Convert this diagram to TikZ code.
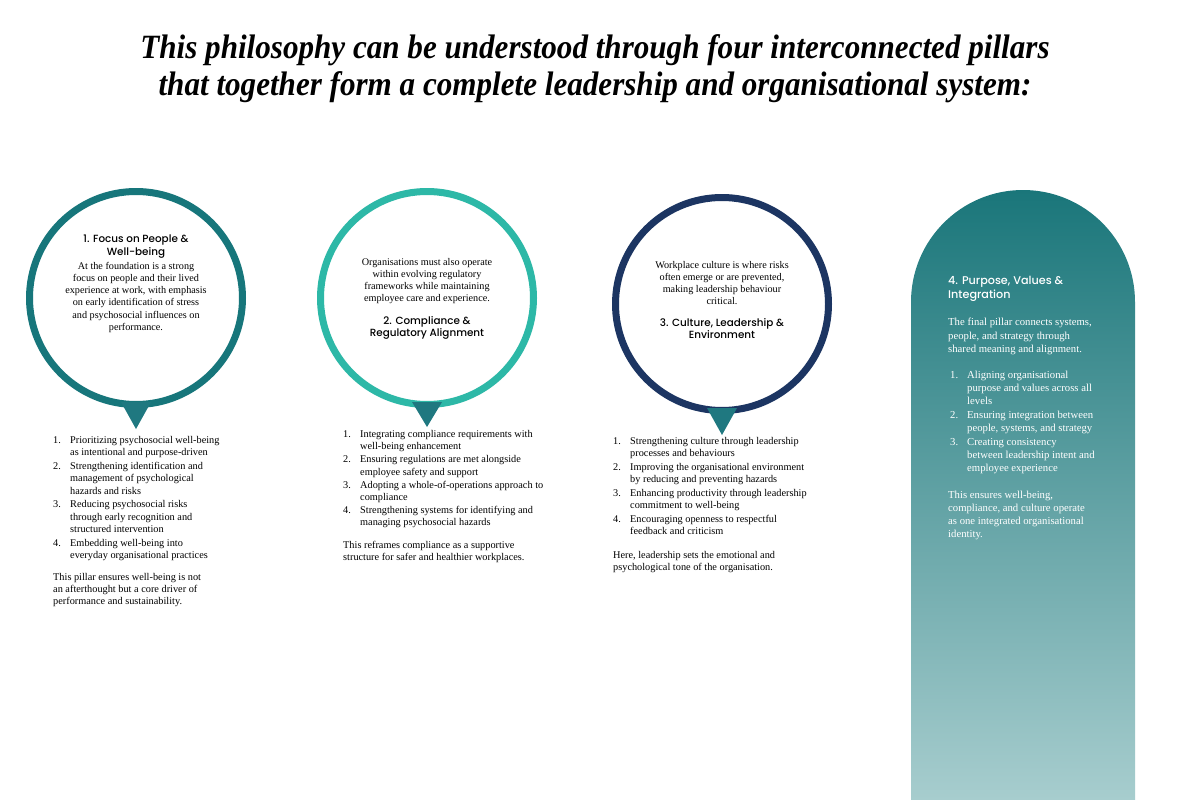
\documentclass[tikz,border=0pt]{standalone}
\usepackage{fontspec}
\setmainfont{Liberation Serif}
\IfFontExistsTF{Poppins Medium}{\newfontfamily\headfont{Poppins Medium}}{\newfontfamily\headfont{Poppins}}
\newfontfamily\titlefont[FakeStretch=0.915]{Liberation Serif}
\definecolor{ringA}{HTML}{17767B}
\definecolor{ringB}{HTML}{2DB8A7}
\definecolor{ringC}{HTML}{1C3562}
\definecolor{tipcol}{HTML}{1F7880}
\definecolor{panelTop}{HTML}{1A767A}
\definecolor{panelBot}{HTML}{A7CDCE}
\newcommand{\num}[1]{\makebox[17pt][l]{#1}}
\newcommand{\ind}{\hspace*{17pt}}

\begin{document}
\begin{tikzpicture}[x=1pt,y=-1pt,line cap=round,line join=round,
  ring/.style={circle,draw=#1,line width=7pt,minimum size=213pt,inner sep=0pt},
  body/.style={inner sep=0pt,align=center,anchor=north,font=\fontsize{10.2}{12.2}\selectfont},
  head/.style={inner sep=0pt,align=center,anchor=north,font=\headfont\fontsize{10.4}{12.5}\selectfont},
  list/.style={inner sep=0pt,align=left,anchor=north west,font=\fontsize{10.3}{12.3}\selectfont}]
\fill[white] (0,0) rectangle (1200,800);
\useasboundingbox (0,0) rectangle (1200,800);
% title
\node[inner sep=0pt,align=center,font=\titlefont\bfseries\itshape\fontsize{34}{37}\selectfont] (title) at (595,69)
  {This philosophy can be understood through four interconnected pillars\\that together form a complete leadership and organisational system:};
% the three rings
\node[ring=ringA] (p1) at (136,298) {};
\node[ring=ringB] (p2) at (427,298) {};
\node[ring=ringC] (p3) at (722,304) {};
\fill[tipcol] ([xshift=-15pt,yshift=6pt]p1.south) -- ([xshift=15pt,yshift=6pt]p1.south) -- ([yshift=-21pt]p1.south) -- cycle;
\fill[tipcol] ([xshift=-15pt,yshift=6pt]p2.south) -- ([xshift=15pt,yshift=6pt]p2.south) -- ([yshift=-19pt]p2.south) -- cycle;
\fill[tipcol] ([xshift=-15pt,yshift=6pt]p3.south) -- ([xshift=15pt,yshift=6pt]p3.south) -- ([yshift=-21pt]p3.south) -- cycle;
% pillar 1
\node[head] (h1) at (136,235) {1. Focus on People \&\\Well-being};
\node[body] (b1) at (136,262) {At the foundation is a strong\\focus on people and their lived\\experience at work, with emphasis\\on early identification of stress\\and psychosocial influences on\\performance.};
\node[list] (l1) at (53,436) {\num{1.}Prioritizing psychosocial well-being\\\ind as intentional and purpose-driven\\[1.5pt]
  \num{2.}Strengthening identification and\\\ind management of psychological\\\ind hazards and risks\\[1.5pt]
  \num{3.}Reducing psychosocial risks\\\ind through early recognition and\\\ind structured intervention\\[1.5pt]
  \num{4.}Embedding well-being into\\\ind everyday organisational practices};
\node[list] (c1) at (53,573) {This pillar ensures well-being is not\\an afterthought but a core driver of\\performance and sustainability.};
% pillar 2
\node[body] (b2) at (427,258) {Organisations must also operate\\within evolving regulatory\\frameworks while maintaining\\employee care and experience.};
\node[head] (h2) at (427,316) {2. Compliance \&\\Regulatory Alignment};
\node[list] (l2) at (343,430) {\num{1.}Integrating compliance requirements with\\\ind well-being enhancement\\[0.8pt]
  \num{2.}Ensuring regulations are met alongside\\\ind employee safety and support\\[0.8pt]
  \num{3.}Adopting a whole-of-operations approach to\\\ind compliance\\[0.8pt]
  \num{4.}Strengthening systems for identifying and\\\ind managing psychosocial hazards};
\node[list] (c2) at (343,541) {This reframes compliance as a supportive\\structure for safer and healthier workplaces.};
% pillar 3
\node[body] (b3) at (722,261) {Workplace culture is where risks\\often emerge or are prevented,\\making leadership behaviour\\critical.};
\node[head] (h3) at (722,318) {3. Culture, Leadership \&\\Environment};
\node[list] (l3) at (613,437) {\num{1.}Strengthening culture through leadership\\\ind processes and behaviours\\[1.5pt]
  \num{2.}Improving the organisational environment\\\ind by reducing and preventing hazards\\[1.5pt]
  \num{3.}Enhancing productivity through leadership\\\ind commitment to well-being\\[1.5pt]
  \num{4.}Encouraging openness to respectful\\\ind feedback and criticism};
\node[list] (c3) at (613,551) {Here, leadership sets the emotional and\\psychological tone of the organisation.};
% pillar 4 panel
\shade[top color=panelTop,bottom color=panelBot] (911,800) -- (911,302) arc[start angle=180,end angle=360,radius=112] -- (1135,800) -- cycle;
\node[head,anchor=north west,align=left,text=white,font=\headfont\fontsize{11.2}{14}\selectfont] (h4) at (948,276) {4. Purpose, Values \&\\Integration};
\node[list,text=white,font=\fontsize{10.7}{13.5}\selectfont] (b4) at (948,318) {The final pillar connects systems,\\people, and strategy through\\shared meaning and alignment.};
\node[list,text=white,font=\fontsize{10.7}{13}\selectfont] (l4) at (950,371) {\num{1.}Aligning organisational\\\ind purpose and values across all\\\ind levels\\[1pt]
  \num{2.}Ensuring integration between\\\ind people, systems, and strategy\\[1pt]
  \num{3.}Creating consistency\\\ind between leadership intent and\\\ind employee experience};
\node[list,text=white,font=\fontsize{10.7}{13}\selectfont] (c4) at (948,491) {This ensures well-being,\\compliance, and culture operate\\as one integrated organisational\\identity.};
\end{tikzpicture}
\end{document}
